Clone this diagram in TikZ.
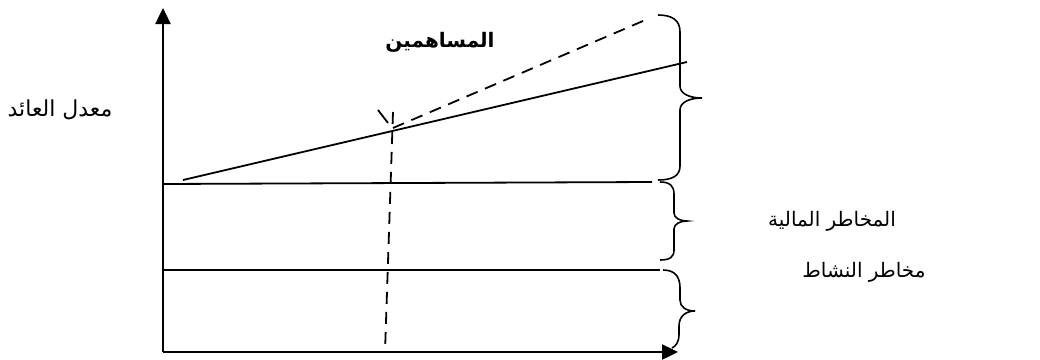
\documentclass[tikz,border=0pt]{standalone}
\usepackage{fontspec}
\usetikzlibrary{arrows.meta}
\TeXXeTstate=1
\newfontfamily\arabicfont[Script=Arabic]{DejaVu Sans}
\tikzset{
  axis/.style={line width=2.4pt,-{Triangle[length=16pt,width=15pt]}},
  curve/.style={line width=1.8pt},
  dashline/.style={line width=1.8pt,dash pattern=on 12pt off 8pt},
  bracestyle/.style={line width=1.6pt},
  lbl/.style={font=\arabicfont\fontsize{20}{24}\selectfont, inner sep=0pt},
}
\begin{document}
\begin{tikzpicture}[x=1pt,y=1pt]
\useasboundingbox (0,0) rectangle (1040,-359);
% axes
\coordinate (O) at (163,-352);
\coordinate (Ytop) at (163,-8);
\coordinate (Xend) at (678,-352);
\draw[axis] (O) -- (Ytop);
\draw[axis] (O) -- (Xend);
% horizontal lines
\coordinate (h1a) at (163,-184);
\coordinate (h1b) at (652,-182);
\coordinate (h2a) at (163,-270);
\coordinate (h2b) at (660,-270);
\draw[curve] (h1a) -- (h1b);
\draw[curve] (h2a) -- (h2b);
% sloped line
\coordinate (s1) at (183,-180);
\coordinate (s2) at (687,-62);
\coordinate (I) at (393,-128);
\draw[curve] (s1) -- (s2);
% dashed lines
\coordinate (d1) at (650,-18);
\coordinate (v1) at (393,-112);
\coordinate (v2) at (385,-352);
\draw[dashline] (I) -- (d1);
\draw[dashline] (v1) -- (v2);
% small tick
\coordinate (t1) at (378,-110);
\coordinate (t2) at (388,-123);
\draw[curve] (t1) -- (t2);
% top brace
\draw[bracestyle] (658,-15) .. controls (672,-15) and (680,-20) .. (680,-32)
  -- (680,-86) .. controls (680,-94) and (690,-98) .. (702,-98)
  .. controls (690,-98) and (680,-102) .. (680,-110)
  -- (680,-166) .. controls (680,-176) and (672,-180) .. (658,-180);
% middle brace
\draw[bracestyle] (660,-182) .. controls (670,-182) and (674,-186) .. (674,-194)
  -- (674,-213) .. controls (674,-218) and (680,-221) .. (687,-221)
  .. controls (680,-221) and (674,-224) .. (674,-229)
  -- (674,-250) .. controls (674,-257) and (670,-260) .. (660,-260);
% bottom brace
\draw[bracestyle] (663,-270) .. controls (676,-270) and (680,-278) .. (680,-288)
  -- (680,-300) .. controls (680,-307) and (686,-311) .. (695,-311)
  .. controls (686,-311) and (679,-316) .. (679,-326)
  -- (679,-334) .. controls (679,-342) and (676,-346) .. (672,-348);
% labels
\node[lbl,font=\arabicfont\bfseries\fontsize{20}{24}\selectfont] (top) at (440,-42) {\beginR المساهمين\endR};
\node[lbl,font=\arabicfont\fontsize{22}{26}\selectfont] (ret) at (60,-110) {\beginR معدل العائد\endR};
\node[lbl] (fin) at (832,-221) {\beginR المخاطر المالية\endR};
\node[lbl] (act) at (864,-272) {\beginR مخاطر النشاط\endR};
\end{tikzpicture}
\end{document}
